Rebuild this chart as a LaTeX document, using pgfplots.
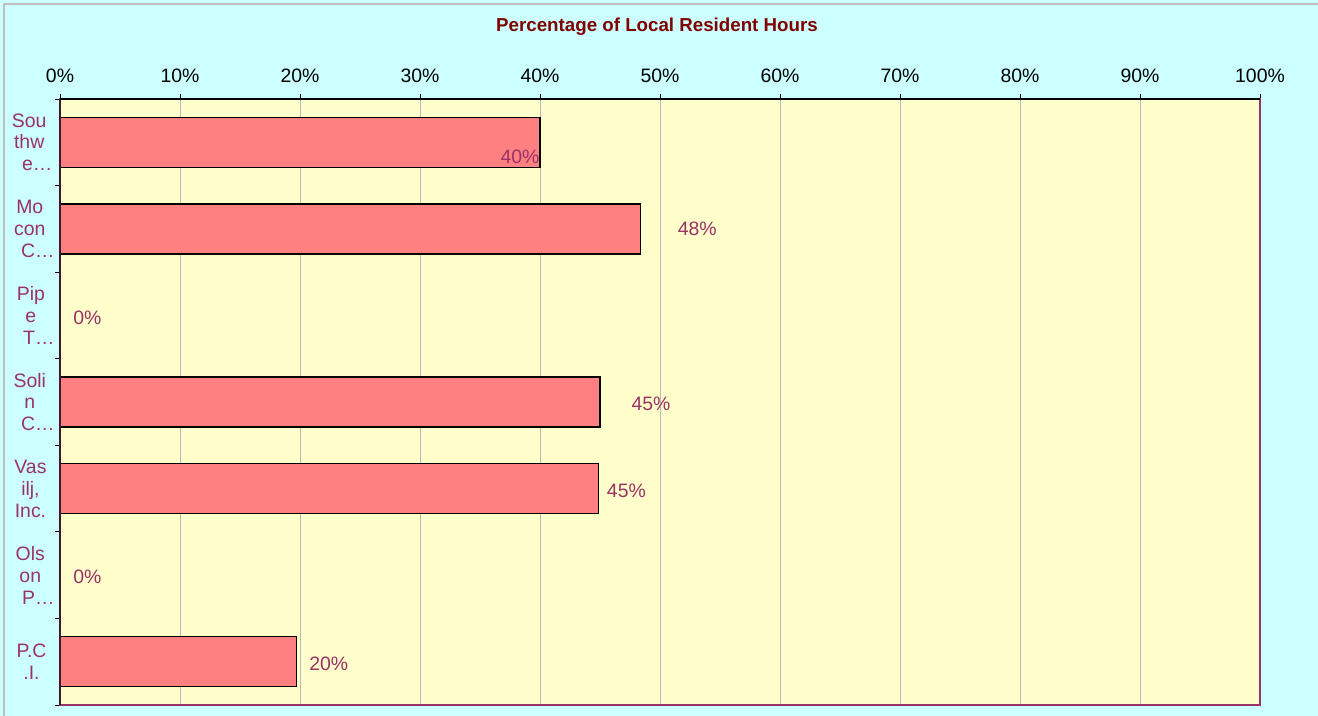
\documentclass[border=0pt]{standalone}
\usepackage{fontspec}
\setmainfont{Liberation Sans}
\usepackage{pgfplots}
\pgfplotsset{compat=1.18}
\definecolor{bgc}{HTML}{CCFFFF}
\definecolor{plotc}{HTML}{FFFFCC}
\definecolor{barc}{HTML}{FF8080}
\definecolor{labc}{HTML}{993366}
\definecolor{titc}{HTML}{800000}
\definecolor{leftc}{RGB}{70,20,45}
\newcommand{\el}[1]{\hspace*{8bp}#1\hspace*{-8bp}}
\begin{document}
\begin{tikzpicture}
\useasboundingbox (0,0) rectangle (1318bp,716bp);
\fill[bgc] (0,0) rectangle (1318bp,716bp);
\draw[black!25, line width=1.5bp] (4bp,-5bp) -- (4bp,712bp) -- (1330bp,712bp);
\node[font=\bfseries\fontsize{18.8}{21}\selectfont, text=titc] at (657bp,689bp) {Percentage of Local Resident Hours};
\begin{axis}[
  at={(60bp,11bp)}, anchor=south west,
  width=1200bp, height=606bp, scale only axis,
  clip=false,
  xmin=0, xmax=100, ymin=-0.5, ymax=6.5, y dir=reverse,
  axis background/.style={fill=plotc},
  axis line style={draw=labc, line width=1.2bp},
  /pgf/number format/assume math mode=true,
  xtick={0,10,...,100},
  xtick pos=right, xticklabel pos=right,
  xticklabel={\pgfmathprintnumber{\tick}\%},
  xticklabel style={font=\fontsize{19.5}{22}\selectfont, text=black, yshift=8bp},
  tick align=outside, major tick length=5bp,
  tick style={black, line width=1bp},
  xmajorgrids, major x grid style={black!28, line width=0.9bp},
  ytick={-0.5,0.5,...,6.5},
  ytick pos=left,
  yticklabels={{Sou\\thw\\\el{e…}},{Mo\\con\\\el{C…}},{Pip\\e\\\el{T…}},{Soli\\n\\\el{C…}},{Vas\\ilj,\\Inc.},{Ols\\on\\\el{P…}},{P.C\\.I.},{}},
  yticklabel style={font=\fontsize{19.5}{22}\selectfont, text=labc, align=center, yshift=-43.3bp, xshift=-5bp},
  every node near coord/.append style={anchor=center, font=\fontsize{19.5}{22}\selectfont, text=labc},
]
\addplot[xbar, bar width=50bp, fill=barc, draw=black, line width=1.3bp]
  coordinates {(40,0) (48.4,1) (0,2) (45,3) (44.9,4) (0,5) (19.7,6)};
\addplot[only marks, mark=none, point meta=explicit,
  nodes near coords={\pgfmathprintnumber[precision=0]{\pgfplotspointmeta}\%}]
  table[x=x, y=y, meta=v] {
x y v
38.33 0.17 40
53.1 1.0 48
2.29 2.03 0
49.25 3.02 45
47.2 4.03 45
2.29 5.02 0
22.4 6.02 20
};
\draw[leftc, line width=1.3bp] (axis cs:0,6.5) -- (axis cs:0,-0.5);
\draw[black, line width=1.2bp] (axis cs:0,-0.5) -- (axis cs:100,-0.5);
\end{axis}
\end{tikzpicture}
\end{document}
